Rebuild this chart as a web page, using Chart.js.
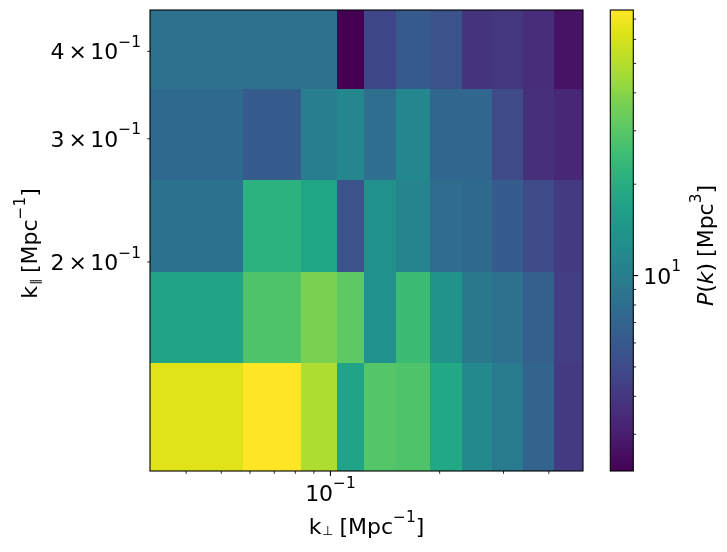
<!DOCTYPE html>
<html>
<head>
<meta charset="utf-8">
<script src="https://cdn.jsdelivr.net/npm/chart.js@4.4.1/dist/chart.umd.min.js"></script>
<style>
  html, body { margin: 0; padding: 0; background: #ffffff; }
  #wrap { width: 727px; height: 552px; position: relative; }
</style>
</head>
<body>
<div id="wrap"><canvas id="c" width="727" height="552"></canvas></div>
<script>
// ---------------- data ----------------
// bin edges (Mpc^-1)
const kPerpEdges = [0.0318, 0.0574, 0.0831, 0.1043, 0.1238, 0.1516, 0.1881, 0.2304, 0.2786, 0.3391, 0.4126, 0.4969];
const kParEdges  = [0.1005, 0.1433, 0.1933, 0.2617, 0.3529, 0.4584];
// P(k) [Mpc^3], one array per k_parallel bin (low to high), values along k_perp
const pkKpar1 = [63.0, 75.0, 48.4, 17.3, 29.2, 28.2, 18.5, 11.75, 9.52, 6.95, 4.11];
const pkKpar2 = [17.3, 28.2, 37.2, 31.3, 13.05, 24.5, 13.5, 9.2, 8.28, 6.48, 4.26];
const pkKpar3 = [8.43, 21.3, 17.9, 5.44, 13.05, 10.96, 7.72, 7.45, 6.26, 4.90, 4.11];
const pkKpar4 = [7.45, 6.26, 9.86, 11.35, 8.0, 11.35, 7.2, 7.2, 4.90, 3.70, 3.34];
const pkKpar5 = [8.28, 8.28, 8.28, 2.27, 4.73, 6.04, 5.44, 3.84, 3.97, 3.57, 2.70];
// ticks
const xMajorTicks = [0.1];
const xMajorLabels = [['10', '−1']];
const xMinorTicks = [0.04, 0.05, 0.06, 0.07, 0.08, 0.09, 0.2, 0.3, 0.4];
const yTicks = [0.2, 0.3, 0.4];
const yTickLabels = [['2', '−1'], ['3', '−1'], ['4', '−1']];
const cbMajorTicks = [10];
const cbMajorLabels = [['10', '1']];
const cbMinorTicks = [3, 4, 5, 6, 7, 8, 9, 20, 30, 40, 50, 60, 70];

const pkRows = [pkKpar1, pkKpar2, pkKpar3, pkKpar4, pkKpar5];
const allVals = pkRows.flat();
const vMin = Math.min(...allVals);
const vMax = Math.max(...allVals);

// viridis colormap stops
const VIRIDIS = ['#440154','#471365','#482475','#46337e','#414487','#3b528b','#355f8d','#2f6c8e','#2a788e','#25848e','#21918c','#1e9c89','#22a884','#2fb47c','#44bf70','#5ec962','#7ad151','#9fda3a','#bddf26','#dfe318','#fde725'];
function hex2rgb(h) { return [parseInt(h.slice(1,3),16), parseInt(h.slice(3,5),16), parseInt(h.slice(5,7),16)]; }
const VRGB = VIRIDIS.map(hex2rgb);
function viridis(t) {
  t = Math.max(0, Math.min(1, t));
  const f = t * (VRGB.length - 1);
  const i = Math.min(Math.floor(f), VRGB.length - 2);
  const u = f - i;
  const a = VRGB[i], b = VRGB[i + 1];
  return 'rgb(' + [0,1,2].map(k => Math.round(a[k] + (b[k] - a[k]) * u)).join(',') + ')';
}

const datasets = pkRows.map((row, j) => ({
  label: 'kpar bin ' + (j + 1),
  data: row.map((v, i) => ({
    x: Math.sqrt(kPerpEdges[i] * kPerpEdges[i + 1]),
    y: Math.sqrt(kParEdges[j] * kParEdges[j + 1]),
    x0: kPerpEdges[i], x1: kPerpEdges[i + 1],
    y0: kParEdges[j], y1: kParEdges[j + 1],
    v: v
  })),
  pointRadius: 0,
  showLine: false
}));

// ---------------- text helper (mathtext-like) ----------------
const FONT = '"DejaVu Sans", sans-serif';
const FS = 22;
function layoutRich(ctx, runs, size) {
  let w = 0;
  const items = runs.map(r => {
    const s = size * (r.sc || ((r.sup || r.sub) ? 0.7 : 1));
    const f = (r.it ? 'italic ' : '') + s + 'px ' + FONT;
    ctx.font = f;
    const m = ctx.measureText(r.t).width;
    const dy = r.sup ? -size * (r.up || 0.56) : (r.sub ? size * (r.down || 0.12) : 0);
    const gap = r.gap || 0;
    w += m + gap;
    return { t: r.t, f, m, dy, gap };
  });
  return { items, w };
}
function drawRich(ctx, runs, x, y, align, size) {
  const L = layoutRich(ctx, runs, size || FS);
  let cx = align === 'center' ? x - L.w / 2 : (align === 'right' ? x - L.w : x);
  ctx.textBaseline = 'alphabetic';
  ctx.textAlign = 'left';
  for (const it of L.items) {
    cx += it.gap;
    ctx.font = it.f;
    ctx.fillText(it.t, cx, y + it.dy);
    cx += it.m;
  }
}

// ---------------- plugin ----------------
const CB_LEFT = 610.3, CB_WIDTH = 23;
const heatPlugin = {
  id: 'heatmap',
  beforeDatasetsDraw(chart) {
    const { ctx, scales } = chart;
    const xs = scales.x, ys = scales.y, cb = scales.cb;
    const pMin = cb.getPixelForValue(vMin), pMax = cb.getPixelForValue(vMax);
    ctx.save();
    chart.data.datasets.forEach(ds => ds.data.forEach(c => {
      const px0 = Math.round(xs.getPixelForValue(c.x0));
      const px1 = Math.round(xs.getPixelForValue(c.x1));
      const py0 = Math.round(ys.getPixelForValue(c.y0));
      const py1 = Math.round(ys.getPixelForValue(c.y1));
      const t = (pMin - cb.getPixelForValue(c.v)) / (pMin - pMax);
      ctx.fillStyle = viridis(t);
      ctx.fillRect(px0, py1, px1 - px0, py0 - py1);
    }));
    ctx.restore();
  },
  afterDraw(chart) {
    const { ctx, chartArea: ca, scales } = chart;
    const xs = scales.x, ys = scales.y, cb = scales.cb;
    ctx.save();
    ctx.fillStyle = '#000';
    ctx.strokeStyle = '#000';
    // frame
    ctx.lineWidth = 1.1;
    ctx.strokeRect(ca.left, ca.top, ca.right - ca.left, ca.bottom - ca.top);
    // x ticks
    const tick = (x1, y1, x2, y2, w) => { ctx.lineWidth = w; ctx.beginPath(); ctx.moveTo(x1, y1); ctx.lineTo(x2, y2); ctx.stroke(); };
    xMinorTicks.forEach(v => { const p = xs.getPixelForValue(v); tick(p, ca.bottom, p, ca.bottom + 2.8, 0.85); });
    xMajorTicks.forEach((v, i) => {
      const p = xs.getPixelForValue(v);
      tick(p, ca.bottom, p, ca.bottom + 4.9, 1.1);
      drawRich(ctx, [{ t: xMajorLabels[i][0] }, { t: xMajorLabels[i][1], sup: true }], p, ca.bottom + 29.5, 'center');
    });
    // y ticks
    yTicks.forEach((v, i) => {
      const p = ys.getPixelForValue(v);
      tick(ca.left, p, ca.left - 2.8, p, 0.85);
      drawRich(ctx, [{ t: yTickLabels[i][0] }, { t: '×', gap: 4 }, { t: '10', gap: 3.5 }, { t: yTickLabels[i][1], sup: true }], ca.left - 9, p + 8, 'right');
    });
    // axis titles
    drawRich(ctx, [{ t: 'k' }, { t: '⊥', sub: true, sc: 0.58, down: 0.04, gap: 1 }, { t: '[', gap: 6 }, { t: 'Mpc' }, { t: '−1', sup: true }, { t: ']' }], (ca.left + ca.right) / 2, 534, 'center');
    ctx.save();
    ctx.translate(37, (ca.top + ca.bottom) / 2 + 3);
    ctx.rotate(-Math.PI / 2);
    drawRich(ctx, [{ t: 'k' }, { t: '∥', sub: true, sc: 0.55, down: 0.08, gap: 1 }, { t: '[', gap: 6 }, { t: 'Mpc' }, { t: '−1', sup: true }, { t: ']' }], 0, 0, 'center');
    ctx.restore();

    // colorbar
    const top = cb.getPixelForValue(vMax), bot = cb.getPixelForValue(vMin);
    const g = ctx.createLinearGradient(0, bot, 0, top);
    for (let k = 0; k <= 64; k++) g.addColorStop(k / 64, viridis(k / 64));
    ctx.fillStyle = g;
    ctx.fillRect(CB_LEFT, top, CB_WIDTH, bot - top);
    ctx.lineWidth = 1.1;
    ctx.strokeRect(CB_LEFT, top, CB_WIDTH, bot - top);
    ctx.fillStyle = '#000';
    const cbR = CB_LEFT + CB_WIDTH;
    cbMinorTicks.forEach(v => { const p = cb.getPixelForValue(v); tick(cbR, p, cbR + 2.8, p, 0.85); });
    cbMajorTicks.forEach((v, i) => {
      const p = cb.getPixelForValue(v);
      tick(cbR, p, cbR + 4.9, p, 1.1);
      drawRich(ctx, [{ t: cbMajorLabels[i][0] }, { t: cbMajorLabels[i][1], sup: true }], cbR + 10, p + 8, 'left');
    });
    ctx.save();
    ctx.translate(713, (ca.top + ca.bottom) / 2 + 5);
    ctx.rotate(-Math.PI / 2);
    drawRich(ctx, [{ t: 'P', it: true }, { t: '(' }, { t: 'k', it: true }, { t: ')' }, { t: '[', gap: 6 }, { t: 'Mpc' }, { t: '3', sup: true }, { t: ']' }], 0, 0, 'center');
    ctx.restore();
    ctx.restore();
  }
};

new Chart(document.getElementById('c'), {
  type: 'scatter',
  data: { datasets },
  options: {
    responsive: false,
    animation: false,
    events: [],
    layout: { padding: { left: 150, right: 144, top: 10, bottom: 81 } },
    plugins: { legend: { display: false }, tooltip: { enabled: false } },
    scales: {
      x: { type: 'logarithmic', min: kPerpEdges[0], max: kPerpEdges[kPerpEdges.length - 1], display: false },
      y: { type: 'logarithmic', min: kParEdges[0], max: kParEdges[kParEdges.length - 1], display: false },
      cb: { type: 'logarithmic', axis: 'y', position: 'right', min: vMin, max: vMax, display: false }
    }
  },
  plugins: [heatPlugin]
});
</script>
</body>
</html>
